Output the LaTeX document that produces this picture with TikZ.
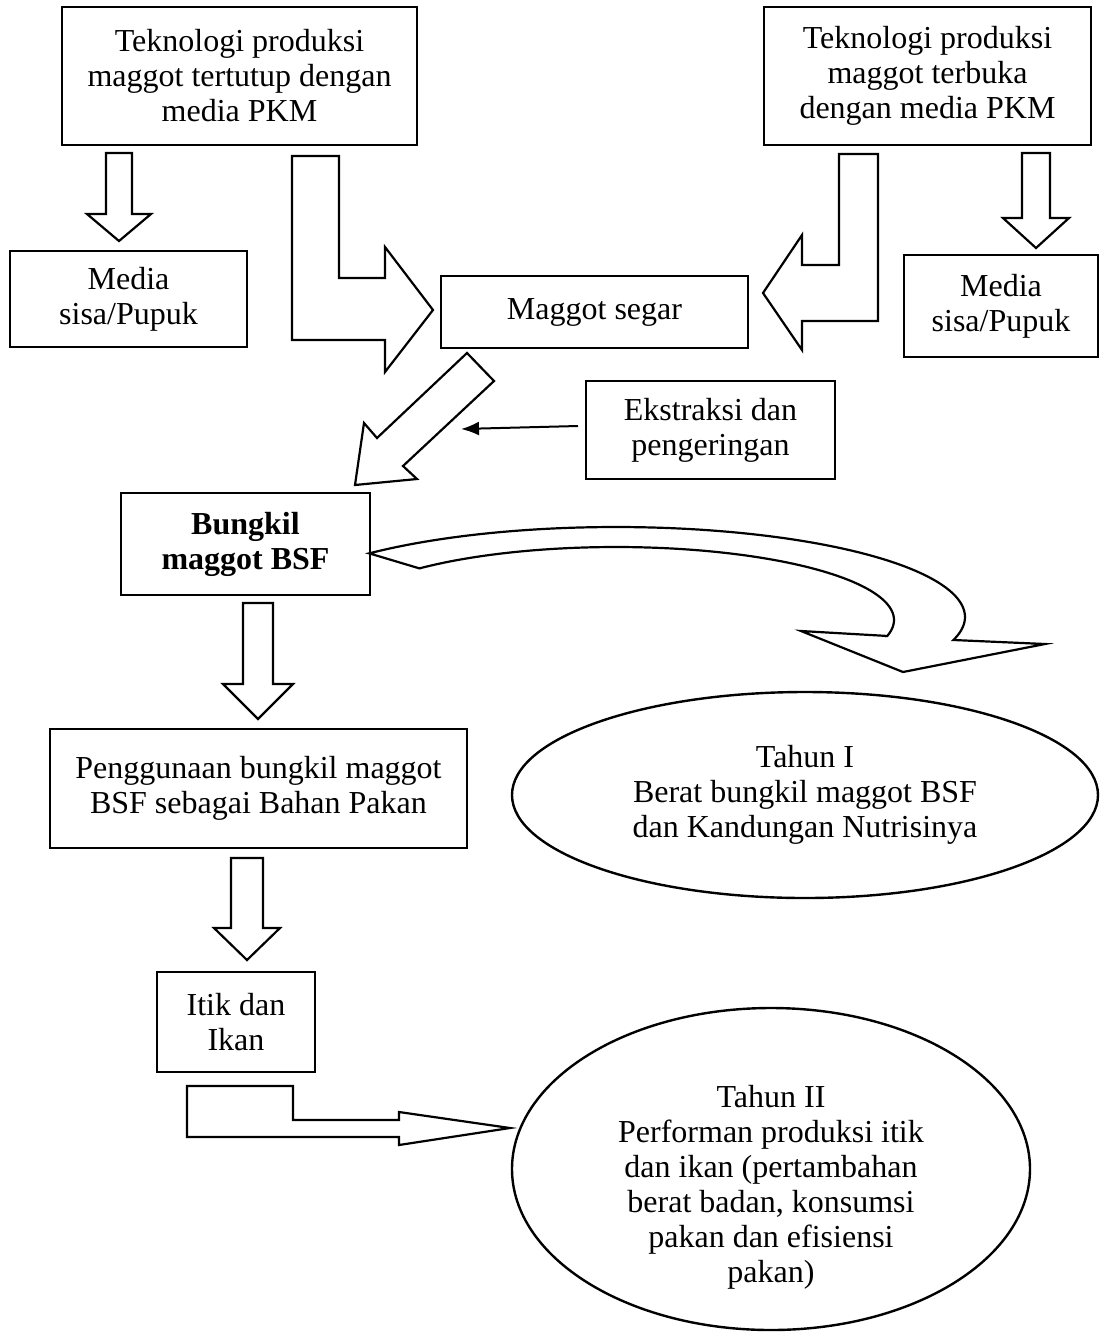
\documentclass[tikz,border=0pt]{standalone}
\usepackage{fontspec}
\setmainfont{Liberation Serif}
\usetikzlibrary{shapes.geometric,arrows.meta}
\newcommand\dnarr[6]{% cx, top, headbase, tip, shafthalf, headhalf
  \draw[blk] ({#1-#5},#2) -- ({#1+#5},#2) -- ({#1+#5},#3) -- ({#1+#6},#3) -- (#1,#4) -- ({#1-#6},#3) -- ({#1-#5},#3) -- cycle;}
\begin{document}
\begin{tikzpicture}[x=0.5pt,y=-0.5pt,
  box/.style={draw, line width=1.4pt, inner sep=0pt, outer sep=0pt, align=center, font=\fontsize{16pt}{17.5pt}\selectfont},
  oval/.style={draw, ellipse, line width=1.2pt, inner sep=0pt, outer sep=0pt},
  txt/.style={align=center, inner sep=0pt, font=\fontsize{16pt}{17.5pt}\selectfont},
  blk/.style={draw, fill=white, line width=1.1pt, line join=miter}]
\useasboundingbox (0,0) rectangle (1100,1335);

% block arrows
\dnarr{119}{153}{214}{241}{13}{32}
\dnarr{1036}{153}{218}{248}{14}{33}
\dnarr{258}{603}{684}{719}{15}{35}
\dnarr{247}{858}{928}{960}{16}{33}

\draw[blk] (292,156) -- (339,156) -- (339,278) -- (385,278) -- (385,247) -- (433,310) -- (385,372) -- (385,340) -- (292,340) -- cycle;
\draw[blk] (839,154) -- (878,154) -- (878,321) -- (802,321) -- (802,350) -- (763,293) -- (802,235) -- (802,265) -- (839,265) -- cycle;
\draw[blk] (467,353) -- (494,381) -- (403,466) -- (417,479) -- (355,485) -- (364,423) -- (377,438) -- cycle;
\draw[blk] (187,1086) -- (293,1086) -- (293,1120) -- (399,1120) -- (399,1112) -- (510,1128) -- (399,1145) -- (399,1137) -- (187,1137) -- cycle;

\draw[blk] plot[domain=225:374.8, samples=90] ({616+349*cos(\x)},{617+90*sin(\x)})
  -- (1045,644) -- (903,672) -- (801,631) -- (888,636)
  -- plot[domain=372.7:225, samples=90] ({616+278*cos(\x)},{620+73*sin(\x)}) -- cycle;

% boxes
\node[box, minimum width=177.5pt, minimum height=69pt] (t1) at (239.5,76) {Teknologi produksi\\maggot tertutup dengan\\media PKM};
\node[box, minimum width=163.5pt, minimum height=69pt] (t2) at (927.5,76) {Teknologi produksi\\maggot terbuka\\dengan media PKM};
\node[box, minimum width=118.5pt, minimum height=48pt] (m1) at (128.5,299) {Media\\sisa/Pupuk};
\node[box, minimum width=97pt, minimum height=51pt] (m2) at (1001,306) {Media\\sisa/Pupuk};
\node[box, minimum width=153.5pt, minimum height=36pt] (ms) at (594.5,312) {Maggot segar};
\node[box, minimum width=124.5pt, minimum height=49pt] (eks) at (710.5,430) {Ekstraksi dan\\pengeringan};
\node[box, minimum width=124.5pt, minimum height=51pt, font=\fontsize{16pt}{17.5pt}\selectfont\bfseries] (bk) at (245.5,544) {Bungkil\\maggot BSF};
\node[box, minimum width=208.5pt, minimum height=59.5pt] (pg) at (258.5,788.5) {Penggunaan bungkil maggot\\BSF sebagai Bahan Pakan};
\node[box, minimum width=79pt, minimum height=50pt] (it) at (236,1022) {Itik dan\\Ikan};

% ellipses
\node[oval, minimum width=293pt, minimum height=103pt] (e1) at (805,795) {};
\node[txt] (e1t) at (e1.center) {Tahun I\\Berat bungkil maggot BSF\\dan Kandungan Nutrisinya};
\node[oval, minimum width=259pt, minimum height=161pt] (e2) at (771,1169) {};
\node[txt] (e2t) at (771,1187) {Tahun II\\Performan produksi itik\\dan ikan (pertambahan\\berat badan, konsumsi\\pakan dan efisiensi\\pakan)};

% small connector
\coordinate (hit) at (461,429);
\draw[line width=1pt, -{Latex[length=9pt,width=7pt]}] ([xshift=-4pt,yshift=2pt]eks.west) -- (hit);
\end{tikzpicture}
\end{document}
